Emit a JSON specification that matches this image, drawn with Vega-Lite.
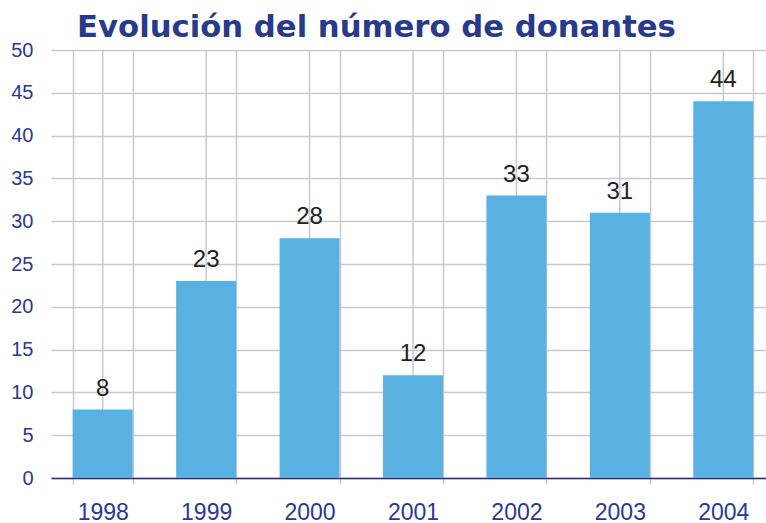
{
  "$schema": "https://vega.github.io/schema/vega-lite/v6.json",
  "autosize": {"type": "none"},
  "width": 715,
  "height": 428,
  "padding": {"left": 51, "top": 50, "right": 0, "bottom": 45},
  "background": "white",
  "title": {
    "text": "Evolución del número de donantes",
    "font": "DejaVu Sans",
    "fontSize": 30.7,
    "fontWeight": "bold",
    "color": "#283A8C",
    "anchor": "middle",
    "baseline": "alphabetic",
    "offset": 13,
    "dx": -32,
    "dy": 41
  },
  "config": {
    "view": {"stroke": null},
    "font": "Liberation Sans"
  },
  "data": {
    "values": [
      {"year": "1998", "donantes": 8},
      {"year": "1999", "donantes": 23},
      {"year": "2000", "donantes": 28},
      {"year": "2001", "donantes": 12},
      {"year": "2002", "donantes": 33},
      {"year": "2003", "donantes": 31},
      {"year": "2004", "donantes": 44}
    ]
  },
  "encoding": {
    "x": {
      "field": "year",
      "type": "ordinal",
      "scale": {"range": [0, 724], "paddingInner": 0.42, "paddingOuter": 0.21},
      "axis": {
        "title": null,
        "labelAngle": 0,
        "labelFont": "Liberation Sans",
        "labelFontSize": 23,
        "labelColor": "#2B3990",
        "labelPadding": 17,
        "tickBand": "extent",
        "ticks": true,
        "tickSize": 6,
        "tickColor": "#C8C9CE",
        "tickWidth": 1.5,
        "grid": true,
        "gridColor": "#C8C9CE",
        "gridWidth": 1.5,
        "domainColor": "#2E2A7A",
        "domainWidth": 1.5
      }
    }
  },
  "layer": [
    {
      "mark": {"type": "rule", "color": "#C8C9CE", "strokeWidth": 1.5},
      "encoding": {
        "x": {"field": "year", "type": "ordinal", "bandPosition": 0.5}
      }
    },
    {
      "mark": {"type": "bar", "color": "#58B1E0"},
      "encoding": {
        "y": {
          "field": "donantes",
          "type": "quantitative",
          "scale": {"domain": [0, 50], "nice": false},
          "axis": {
            "title": null,
            "values": [0, 5, 10, 15, 20, 25, 30, 35, 40, 45, 50],
            "labelFont": "Liberation Sans",
            "labelFontSize": 20,
            "labelColor": "#2B3990",
            "labelPadding": 18,
            "ticks": false,
            "domain": false,
            "grid": true,
            "gridColor": "#C8C9CE",
            "gridWidth": 1.5
          }
        }
      }
    },
    {
      "mark": {
        "type": "text",
        "baseline": "alphabetic",
        "dy": -14,
        "fontSize": 24,
        "font": "Liberation Sans",
        "color": "#222222"
      },
      "encoding": {
        "y": {"field": "donantes", "type": "quantitative"},
        "text": {"field": "donantes", "type": "quantitative"}
      }
    }
  ]
}
